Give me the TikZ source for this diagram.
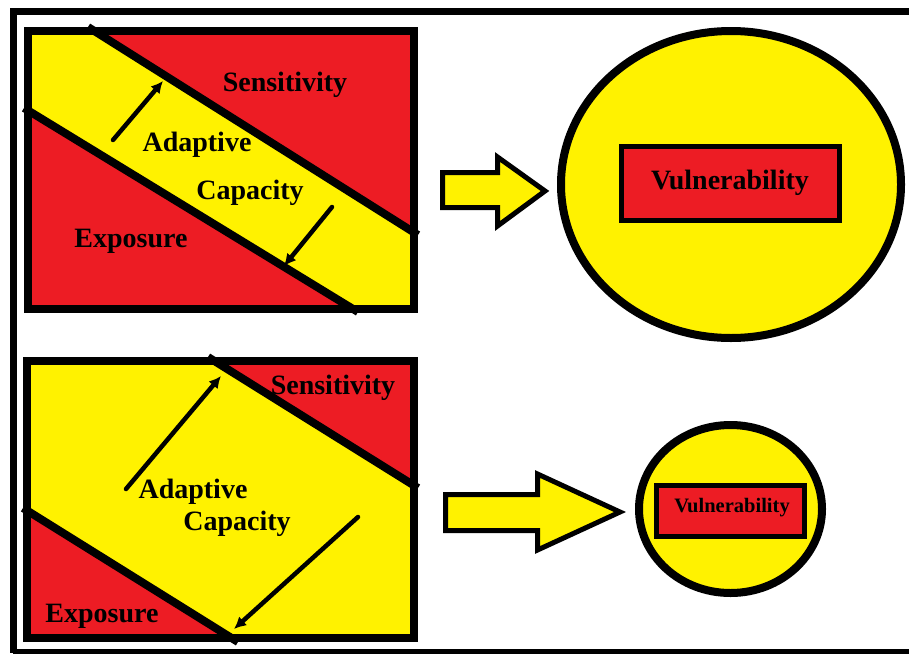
\documentclass[tikz,border=0pt]{standalone}
\usepackage{fontspec}
\setmainfont{Liberation Serif}
\usetikzlibrary{shapes.geometric,arrows.meta}
\definecolor{pred}{HTML}{ED1C24}
\definecolor{pyel}{HTML}{FFF200}
\tikzset{
  frameline/.style={line width=7pt},
  panelbox/.style={line width=8pt, line join=miter},
  divider/.style={line width=8pt},
  shiftarrow/.style={line width=4.5pt, line cap=round, -{Latex[length=12pt,width=12pt]}},
  bigtxt/.style={font=\fontsize{28}{30}\selectfont\bfseries, inner sep=0pt},
  smalltxt/.style={font=\fontsize{20.5}{22}\selectfont\bfseries, inner sep=0pt},
  vulnbox/.style={draw=black, fill=pred, line width=5pt, inner sep=0pt},
  vulncircle/.style={ellipse, draw=black, fill=pyel, line width=8pt, inner sep=0pt},
  blockarrow/.style={draw=black, fill=pyel, line width=5pt, line join=miter}
}
\begin{document}
\begin{tikzpicture}[x=1pt,y=-1pt]
\useasboundingbox (0,0) rectangle (909,653);
\fill[white] (0,0) rectangle (909,653);
% outer frame
\draw[frameline] (909,11) -- (13,11) -- (13,653);
\draw[line width=5pt] (13,651) -- (909,651);

% ---------- top panel ----------
\begin{scope}
  \clip (28,31) rectangle (414,309);
  \fill[pyel] (28,31) rectangle (414,309);
  \fill[pred] (88,27) -- (430,27) -- (430,235) -- (418,235) -- cycle;
  \fill[pred] (24,108) -- (358,312) -- (20,312) -- cycle;
\end{scope}
\draw[divider] (88,27) -- (418,235);
\draw[divider] (24,108) -- (358,312);
\draw[panelbox] (28,31) rectangle (414,309);
\coordinate (t1s) at (113,140); \coordinate (t1e) at (163,81);
\coordinate (t2s) at (332,207); \coordinate (t2e) at (284,266);
\draw[shiftarrow] (t1s) -- (t1e);
\draw[shiftarrow] (t2s) -- (t2e);
\node[bigtxt] (sens1) at (285,85) {Sensitivity};
\node[bigtxt] (adap1) at (197,145) {Adaptive};
\node[bigtxt] (capa1) at (250,193) {Capacity};
\node[bigtxt] (expo1) at (131,241) {Exposure};

% top block arrow and vulnerability
\draw[blockarrow] (442.5,172.5) -- (497.5,172.5) -- (497.5,157) -- (545,191) -- (497.5,226) -- (497.5,207.5) -- (442.5,207.5) -- cycle;
\node[vulncircle, minimum width=340pt, minimum height=307pt] (circ1) at (731,184.5) {};
\node[vulnbox, minimum width=218pt, minimum height=74pt] (vbox1) at (730.5,183.5) {};
\node[bigtxt] (vul1) at (730,183) {Vulnerability};

% ---------- bottom panel ----------
\begin{scope}
  \clip (27,361) rectangle (414,638);
  \fill[pyel] (27,361) rectangle (414,638);
  \fill[pred] (208,357) -- (430,357) -- (430,488) -- (418,488) -- cycle;
  \fill[pred] (23,508) -- (238,642) -- (20,642) -- cycle;
\end{scope}
\draw[divider] (208,357) -- (418,488);
\draw[divider] (23,508) -- (238,642);
\draw[panelbox] (27,361) rectangle (414,638);
\coordinate (b1s) at (126,489); \coordinate (b1e) at (221,376);
\coordinate (b2s) at (358,517); \coordinate (b2e) at (234,629);
\draw[shiftarrow] (b1s) -- (b1e);
\draw[shiftarrow] (b2s) -- (b2e);
\node[bigtxt] (sens2) at (333,388) {Sensitivity};
\node[bigtxt] (adap2) at (193,492) {Adaptive};
\node[bigtxt] (capa2) at (237,524) {Capacity};
\node[bigtxt] (expo2) at (102,616) {Exposure};

% bottom block arrow and vulnerability
\draw[blockarrow] (445.5,494.5) -- (537.5,494.5) -- (537.5,474) -- (620,512) -- (537.5,550) -- (537.5,530.5) -- (445.5,530.5) -- cycle;
\node[vulncircle, minimum width=183pt, minimum height=168pt] (circ2) at (730.5,509) {};
\node[vulnbox, minimum width=148pt, minimum height=51pt] (vbox2) at (730.5,511) {};
\node[smalltxt] (vul2) at (732,508) {Vulnerability};
\end{tikzpicture}
\end{document}
